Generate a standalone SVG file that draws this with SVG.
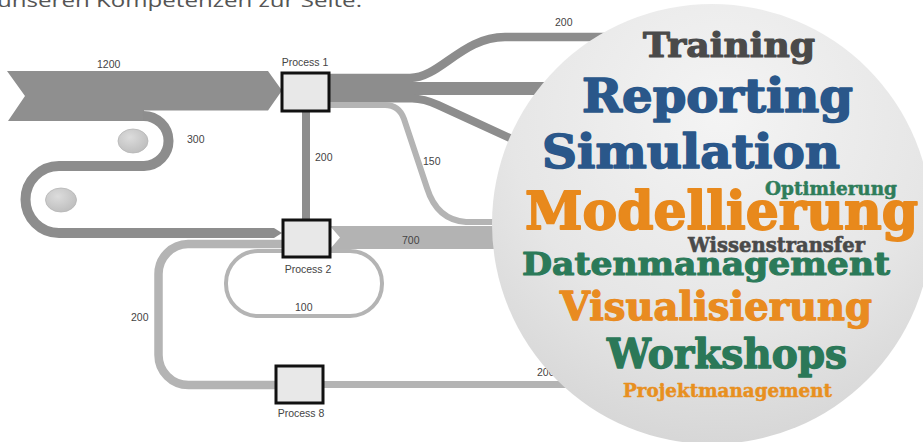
<svg xmlns="http://www.w3.org/2000/svg" width="923" height="442" viewBox="0 0 923 442">
<defs>
<style>
.dark{fill:none;stroke:#8d8d8d;}
.light{fill:none;stroke:#b4b4b4;}
.box{fill:#e8e8e8;stroke:#111;stroke-width:3;}
.lbl{font-family:"Liberation Sans",Arial,sans-serif;font-size:10.5px;fill:#444;}
.num{font-family:"Liberation Sans",Arial,sans-serif;font-size:10.5px;fill:#444;}
.wc{font-family:"DejaVu Serif","Liberation Serif",serif;font-weight:bold;stroke-linejoin:round;}
</style>
<radialGradient id="cg" cx="0.52" cy="0.25" r="0.8">
<stop offset="0" stop-color="#f4f4f4"/>
<stop offset="0.6" stop-color="#e6e6e6"/>
<stop offset="1" stop-color="#d4d4d4"/>
</radialGradient>
<radialGradient id="eg" cx="0.4" cy="0.35" r="0.7">
<stop offset="0" stop-color="#dcdcdc"/>
<stop offset="1" stop-color="#bdbdbd"/>
</radialGradient>
</defs>
<rect width="923" height="442" fill="#ffffff"/>
<text x="-3" y="7" font-family="'Open Sans','Liberation Sans',sans-serif" font-size="19" fill="#555" textLength="365" lengthAdjust="spacingAndGlyphs">unseren Kompetenzen zur Seite.</text>
<g id="connectors">
<polygon points="7,71 268,71 282,90.5 268,110.5 144,110.5 144,121 8,121 25,96" fill="#8f8f8f"/>
<path class="dark" stroke-width="10" d="M143,116 A25 25 0 0 1 144,166 H59 A33.5 33.5 0 0 0 59,233 H272"/>
<polygon points="271,228 274,228 282,233 274,238 271,238" fill="#8d8d8d"/>
<ellipse cx="133" cy="141" rx="15" ry="12" fill="url(#eg)" stroke="#b5b5b5" stroke-width="0.8"/>
<ellipse cx="61" cy="200" rx="15.5" ry="12" fill="url(#eg)" stroke="#b5b5b5" stroke-width="0.8"/>
<path class="dark" stroke-width="8.5" d="M329,78 H410 C440,78 462,37 505,37 H620"/>
<path class="dark" stroke-width="13" stroke="#929292" d="M329,88.5 H570"/>
<path class="dark" stroke-width="8" stroke="#818181" d="M329,98.5 H412 Q424,98.5 438,105 L540,152"/>
<path class="light" stroke-width="6" d="M329,105 H385 Q399,105 404,119 L427,188 Q437,220 466,222 H510"/>
<path class="dark" stroke-width="8" d="M306,111 V221"/>
<polygon points="330,226 520,226 520,249 330,249 340,237.5" fill="#b3b3b3"/>
<path class="light" stroke-width="4" d="M330,251 H350 A32 32 0 0 1 382,283 V284 A32 32 0 0 1 350,316 H258 A32 32 0 0 1 226,284 V283 A32 32 0 0 1 258,251 H283"/>
<path class="light" stroke-width="8.5" d="M283,244 H188 A30 30 0 0 0 158.5,274 V355 A30 30 0 0 0 188.5,385 H276"/>
<path class="light" stroke-width="7" d="M322,384.5 H590"/>
</g>
<g class="num">
<text x="97" y="68">1200</text>
<text x="187" y="143">300</text>
<text x="315" y="161">200</text>
<text x="423" y="165">150</text>
<text x="402" y="244">700</text>
<text x="295" y="311">100</text>
<text x="131" y="321">200</text>
<text x="555" y="26">200</text>
<text x="537" y="376">200</text>
</g>
<g id="process1">
<rect class="box" x="282" y="73" width="47" height="38"/>
<text class="lbl" x="305" y="66" text-anchor="middle">Process 1</text>
</g>
<g id="process2">
<rect class="box" x="283" y="220" width="47" height="37"/>
<text class="lbl" x="308" y="273" text-anchor="middle">Process 2</text>
</g>
<g id="process8">
<rect class="box" x="276" y="366" width="47" height="37"/>
<text class="lbl" x="301" y="417" text-anchor="middle">Process 8</text>
</g>
<g id="wordcloud">
<circle cx="712" cy="224" r="220" fill="url(#cg)"/>
<text class="wc" x="643" y="57" font-size="34" fill="#4a4a4a" stroke="#4a4a4a" stroke-width="1.2" textLength="172" lengthAdjust="spacingAndGlyphs">Training</text>
<text class="wc" x="582" y="112" font-size="46" fill="#2a578a" stroke="#2a578a" stroke-width="1.6" textLength="271" lengthAdjust="spacingAndGlyphs">Reporting</text>
<text class="wc" x="542" y="168" font-size="46" fill="#2a578a" stroke="#2a578a" stroke-width="1.6" textLength="298" lengthAdjust="spacingAndGlyphs">Simulation</text>
<text class="wc" x="765" y="195" font-size="18" fill="#2e7d5a" stroke="#2e7d5a" stroke-width="0.5" textLength="132" lengthAdjust="spacingAndGlyphs">Optimierung</text>
<text class="wc" x="525" y="229" font-size="52" fill="#e8891c" stroke="#e8891c" stroke-width="1.8" textLength="393" lengthAdjust="spacingAndGlyphs">Modellierung</text>
<text class="wc" x="688" y="252" font-size="20" fill="#4a4a4a" stroke="#4a4a4a" stroke-width="0.6" textLength="177" lengthAdjust="spacingAndGlyphs">Wissenstransfer</text>
<text class="wc" x="522" y="275" font-size="32" fill="#2b7a59" stroke="#2b7a59" stroke-width="1.1" textLength="368" lengthAdjust="spacingAndGlyphs">Datenmanagement</text>
<text class="wc" x="560" y="320" font-size="39" fill="#e98b20" stroke="#e98b20" stroke-width="1.3" textLength="312" lengthAdjust="spacingAndGlyphs">Visualisierung</text>
<text class="wc" x="607" y="368" font-size="41" fill="#2b7858" stroke="#2b7858" stroke-width="1.4" textLength="240" lengthAdjust="spacingAndGlyphs">Workshops</text>
<text class="wc" x="623" y="397" font-size="18.5" fill="#e8901f" stroke="#e8901f" stroke-width="0.5" textLength="209" lengthAdjust="spacingAndGlyphs">Projektmanagement</text>
</g>
</svg>
